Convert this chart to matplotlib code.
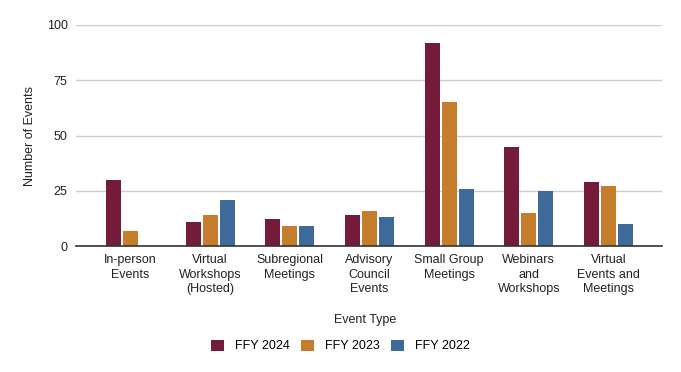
import matplotlib
matplotlib.use("Agg")
import matplotlib.pyplot as plt
import numpy as np

plt.rcParams['font.family'] = ['Liberation Sans', 'DejaVu Sans']

categories = ["In-person\nEvents", "Virtual\nWorkshops\n(Hosted)", "Subregional\nMeetings",
              "Advisory\nCouncil\nEvents", "Small Group\nMeetings", "Webinars\nand\nWorkshops",
              "Virtual\nEvents and\nMeetings"]
series_names = ["FFY 2024", "FFY 2023", "FFY 2022"]
ffy2024 = [30, 11, 12, 14, 92, 45, 29]
ffy2023 = [7, 14, 9, 16, 65, 15, 27]
ffy2022 = [0, 21, 9, 13, 26, 25, 10]
colors = ["#741b3a", "#c57d2c", "#3d6a9a"]

fig = plt.figure(figsize=(6.81, 3.72), dpi=100)
ax = fig.add_axes([0.1116, 0.3387, 0.8604, 0.5941])

x = np.arange(len(categories))
width = 0.188
step = 0.213
for i, (vals, name, c) in enumerate(zip([ffy2024, ffy2023, ffy2022], series_names, colors)):
    ax.bar(x + (i - 1) * step, vals, width, color=c, label=name, zorder=3)

ax.set_xlim(-0.684, 6.67)
ax.set_ylim(0, 100)
ax.set_yticks([0, 25, 50, 75, 100])
ax.set_xticks(x)
ax.set_xticklabels(categories, fontsize=9, color="#222222", linespacing=1.25)
ax.tick_params(axis='y', labelsize=9, length=0, pad=6)
ax.tick_params(axis='x', length=0, pad=6)
for lbl in ax.get_yticklabels():
    lbl.set_color("#222222")
ax.grid(axis='y', color="#cccccc", linewidth=1, zorder=0)
for s in ['top', 'right', 'left']:
    ax.spines[s].set_visible(False)
ax.spines['bottom'].set_color("#333333")
ax.spines['bottom'].set_linewidth(1.2)
ax.spines['bottom'].set_zorder(4)

ax.set_ylabel("Number of Events", fontsize=9, color="#222222", labelpad=8)
fig.text(0.5367, 1 - 320 / 372, "Event Type", ha='center', va='center', fontsize=9, color="#222222")

handles, labels = ax.get_legend_handles_labels()
fig.legend(handles, labels, loc='center', bbox_to_anchor=(0.5, 1 - 346 / 372), ncol=3,
           frameon=False, fontsize=9, handlelength=1.0, handleheight=1.0,
           handletextpad=0.9, columnspacing=0.9)

fig.savefig("out.png", dpi=100)
